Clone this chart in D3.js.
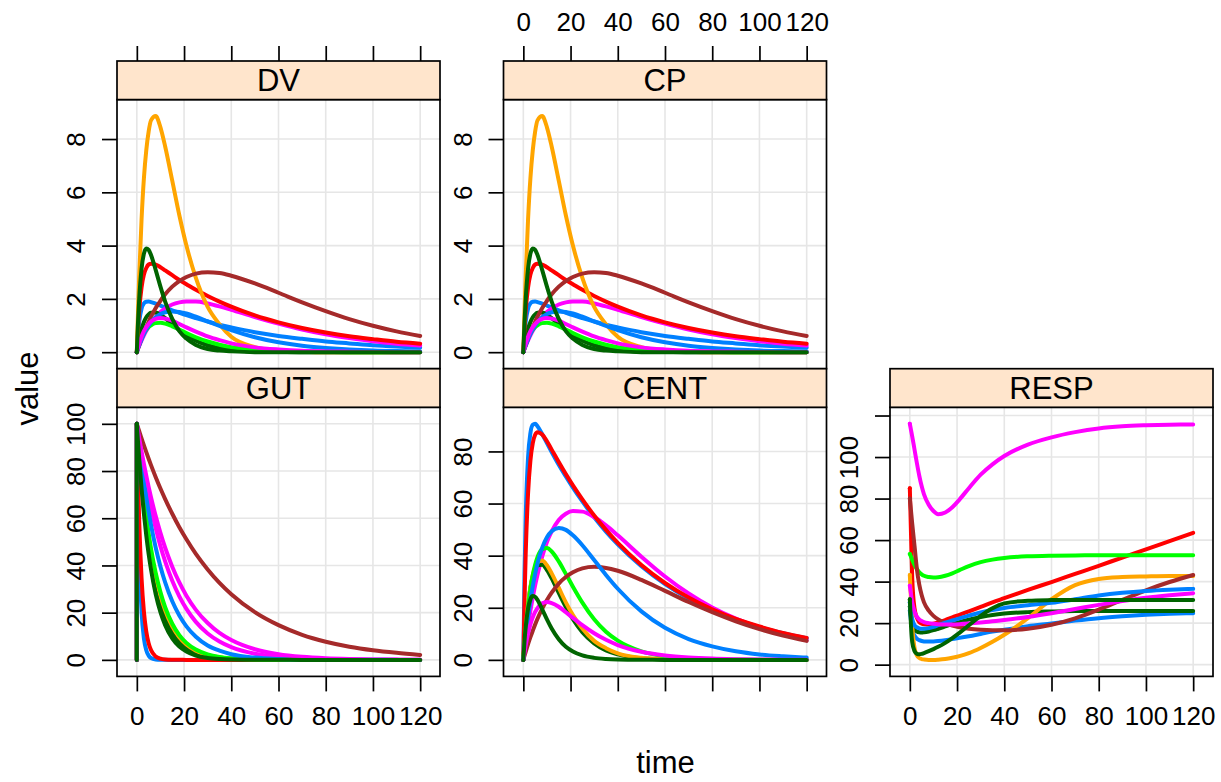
<!DOCTYPE html>
<html><head><meta charset="utf-8">
<script src="https://cdn.jsdelivr.net/npm/d3@7"></script>
<style>
body{margin:0;background:#fff}
text{font-family:"Liberation Sans",Arial,Helvetica,sans-serif;fill:#000}
</style>
</head><body>
<svg id="chart" width="1221" height="782"></svg>
<script>
// ---------------- data ----------------
const times = [0, 0, 0.5, 1, 2, 3, 4, 5, 6, 8, 10, 12, 15, 18, 21, 25, 30, 35, 40, 50, 60, 70, 80, 90, 100, 110, 120];
const ids = [1, 2, 3, 4, 5, 6, 7, 8, 9, 10];
const colors = ["#0080ff", "#ff00ff", "#006400", "#ff0000", "#ffa500", "#00ff00", "#a52a2a", "#0080ff", "#ff00ff", "#006400"];

const gut = [
  [0,100,67.0,44.9,20.2,9.1,4.1,1.8,0.8,0.17,0.03,0.01,0,0,0,0,0,0,0,0,0,0,0,0,0,0,0],
  [0,100,96.4,93.0,86.4,80.3,74.7,69.4,64.5,55.8,48.2,41.7,33.5,26.9,21.6,16.1,11.2,7.8,5.4,2.6,1.25,0.60,0.29,0.14,0.07,0.03,0.02],
  [0,100,93.0,86.5,74.8,64.7,56.0,48.4,41.9,31.4,23.5,17.6,11.4,7.4,4.8,2.7,1.3,0.63,0.30,0.07,0.02,0,0,0,0,0,0],
  [0,100,76.7,58.9,34.6,20.4,12.0,7.07,4.16,1.44,0.50,0.17,0.04,0.01,0,0,0,0,0,0,0,0,0,0,0,0,0],
  [0,100,93.7,87.8,77.1,67.7,59.5,52.2,45.8,35.4,27.3,21.0,14.2,9.6,6.5,3.9,2.0,1.06,0.55,0.15,0.04,0.01,0,0,0,0,0],
  [0,100,93.9,88.2,77.9,68.7,60.7,53.5,47.2,36.8,28.7,22.3,15.3,10.5,7.2,4.4,2.35,1.26,0.67,0.19,0.06,0.02,0,0,0,0,0],
  [0,100,98.4,96.9,93.8,90.9,88.0,85.2,82.5,77.4,72.6,68.1,61.9,56.2,51.1,44.9,38.3,32.6,27.8,20.2,14.7,10.6,7.7,5.6,4.1,3.0,2.1],
  [0,100,95.5,91.1,83.0,75.7,68.9,62.8,57.2,47.5,39.5,32.8,24.8,18.8,14.2,9.8,6.1,3.9,2.4,0.96,0.38,0.15,0.06,0.02,0.01,0,0],
  [0,100,96.9,94.0,88.3,83.0,78.0,73.3,68.9,60.9,53.8,47.5,39.5,32.8,27.2,21.2,15.6,11.4,8.4,4.5,2.4,1.3,0.7,0.38,0.2,0.11,0.06],
  [0,100,92.3,85.2,72.6,61.9,52.7,44.9,38.3,27.8,20.2,14.7,9.1,5.6,3.5,1.8,0.82,0.37,0.17,0.03,0.01,0,0,0,0,0,0]
];

const cent = [
  [0,0,32.8,54.4,77.7,87.1,90.2,90.6,89.7,86.6,83.2,79.8,74.9,70.4,66.1,60.8,54.7,49.2,44.3,35.9,29.1,23.6,19.1,15.5,12.6,10.2,8.3],
  [0,0,3.6,7.0,13.3,18.9,24.0,28.6,32.7,39.7,45.2,49.3,53.7,56.1,57.1,56.9,54.8,51.6,47.8,39.6,32.0,25.5,20.1,15.8,12.4,9.7,7.5],
  [0,0,6.5,12.2,21.2,27.6,32.0,34.8,36.3,36.5,34.5,31.3,25.7,20.3,15.6,10.6,6.3,3.6,2.1,0.6,0.2,0,0,0,0,0,0],
  [0,0,23.1,40.7,63.8,76.5,83.2,86.4,87.4,86.5,83.9,80.7,75.9,71.3,67.0,61.6,55.4,49.9,44.9,36.4,29.5,23.9,19.4,15.7,12.8,10.3,8.4],
  [0,0,6.5,12.2,21.4,28.1,32.6,35.6,37.4,38.1,36.3,33.2,27.7,22.1,17.2,12.0,7.3,4.5,2.5,0.8,0.25,0.08,0,0,0,0,0],
  [0,0,5.9,11.2,20.2,27.2,32.6,36.5,39.4,42.5,42.9,41.6,37.8,33.0,28.1,22.0,15.6,10.8,7.4,3.3,1.4,0.6,0.25,0.1,0.04,0,0],
  [0,0,1.6,3.1,6.0,8.7,11.2,13.6,15.8,19.7,23.0,25.8,29.3,31.8,33.6,35.1,35.7,35.3,34.2,30.7,26.5,22.2,18.3,14.8,11.8,9.3,7.3],
  [0,0,4.5,8.7,16.2,22.7,28.3,33.0,37.0,43.1,47.1,49.4,50.6,49.9,47.8,44.0,38.3,32.6,27.3,18.6,12.3,8.0,5.2,3.3,2.1,1.4,0.87],
  [0,0,2.9,5.6,10.0,13.6,16.3,18.4,19.9,21.7,22.2,21.8,20.4,18.3,16.1,13.3,10.2,7.7,5.7,3.1,1.7,0.92,0.49,0.27,0.14,0.08,0.04],
  [0,0,7.1,12.5,19.7,23.3,24.5,24.2,23.0,19.4,15.5,12.0,7.9,5.0,3.2,1.7,0.77,0.35,0.16,0.03,0,0,0,0,0,0,0]
];

const cp = [
  [0,0,0.69,1.14,1.63,1.83,1.89,1.90,1.88,1.82,1.75,1.68,1.57,1.48,1.39,1.28,1.15,1.03,0.93,0.75,0.61,0.50,0.40,0.33,0.26,0.21,0.17],
  [0,0,0.12,0.23,0.44,0.63,0.80,0.95,1.09,1.32,1.51,1.64,1.79,1.87,1.90,1.90,1.83,1.72,1.59,1.32,1.07,0.85,0.67,0.53,0.41,0.32,0.25],
  [0,0,0.27,0.50,0.87,1.13,1.31,1.42,1.48,1.49,1.41,1.28,1.05,0.83,0.64,0.43,0.26,0.15,0.09,0.02,0.01,0,0,0,0,0,0],
  [0,0,0.88,1.55,2.43,2.91,3.16,3.29,3.32,3.29,3.19,3.07,2.89,2.71,2.55,2.34,2.11,1.90,1.71,1.38,1.12,0.91,0.74,0.60,0.49,0.39,0.32],
  [0,0,1.51,2.84,4.98,6.53,7.58,8.28,8.70,8.86,8.44,7.72,6.44,5.14,4.00,2.79,1.70,1.05,0.58,0.19,0.06,0.02,0,0,0,0,0],
  [0,0,0.15,0.29,0.52,0.70,0.84,0.94,1.01,1.09,1.10,1.07,0.97,0.85,0.72,0.56,0.40,0.28,0.19,0.08,0.04,0.02,0.01,0,0,0,0],
  [0,0,0.13,0.26,0.50,0.73,0.94,1.14,1.33,1.66,1.93,2.17,2.46,2.67,2.82,2.95,3.00,2.97,2.87,2.58,2.23,1.87,1.54,1.24,0.99,0.78,0.61],
  [0,0,0.14,0.26,0.49,0.69,0.86,1.00,1.12,1.31,1.43,1.50,1.53,1.51,1.45,1.33,1.16,0.99,0.83,0.56,0.37,0.24,0.16,0.10,0.06,0.04,0.03],
  [0,0,0.17,0.32,0.58,0.79,0.94,1.06,1.15,1.25,1.28,1.26,1.18,1.06,0.93,0.77,0.59,0.45,0.33,0.18,0.10,0.05,0.03,0.02,0.01,0,0],
  [0,0,1.12,1.98,3.13,3.70,3.89,3.84,3.65,3.08,2.46,1.90,1.25,0.79,0.51,0.27,0.12,0.06,0.03,0,0,0,0,0,0,0,0]
];

// DV is identical to CP in the reference
const dv = cp.map(a => a.slice());

const resp = [
  [26,26,21,17,14,12.5,11.8,11.4,11.2,11.1,11.2,11.4,11.8,12.3,12.9,13.7,14.8,15.9,16.8,18.5,19.8,21.2,22.4,23.3,24.0,24.5,24.8],
  [116,116,113,110,103.5,97,91,86,82,77,74,72.5,73.3,75.8,79.5,85,91.5,96.5,100.5,106,109.5,112,113.8,114.8,115.3,115.6,115.7],
  [28,28,23,20,17,16,15.6,15.5,15.6,16,16.6,17.3,18.4,19.5,20.5,21.7,22.9,23.9,24.6,25.3,25.6,25.8,25.9,25.9,25.9,25.9,25.9],
  [85,85,63,42,27,22.5,20.5,19.8,19.5,19.4,19.7,20.3,21.5,22.8,24,25.7,27.8,30,32,36,39.8,43.7,47.6,51.6,55.5,59.5,63.5],
  [43.2,43.2,31,19,8,4.5,3.2,2.7,2.5,2.3,2.3,2.4,2.7,3.3,4.1,5.5,8,11,14.4,22.4,31.5,38.3,41.3,42.2,42.5,42.7,42.7],
  [53.3,53.3,52,50.5,48,46,44.5,43.5,42.8,42.2,42.0,42.1,42.8,44,45.5,47.5,49.4,50.6,51.4,52.2,52.5,52.6,52.7,52.7,52.7,52.7,52.7],
  [80,80,74,68,57,46,38.5,33.5,30,26,23.5,21.8,20,18.8,18,17.3,16.8,16.6,16.6,17.3,19.2,22.3,26.5,31.2,35.8,39.8,43.2],
  [30,30,25,22,19,18,17.5,17.3,17.3,17.6,18.2,19,20.2,21.3,22.3,23.6,25.1,26.3,27.3,28.6,29.8,31.5,33.3,34.6,35.5,36.1,36.5],
  [38,38,34,30,25.5,23,21.8,21,20.5,20,19.7,19.5,19.4,19.4,19.5,19.8,20.3,20.9,21.5,23,24.8,26.8,28.8,30.6,32.2,33.4,34.4],
  [31.5,31.5,18.5,11,6.5,5.2,5.0,5.2,5.6,6.5,7.5,8.6,10.5,12.8,15.3,19,23.5,27.2,29.5,30.8,31.1,31.2,31.2,31.2,31.2,31.2,31.2]
];

const xTicks = [0, 20, 40, 60, 80, 100, 120];
const dvTicks = [0, 2, 4, 6, 8];
const gutTicks = [0, 20, 40, 60, 80, 100];
const centTicks = [0, 20, 40, 60, 80];
const respTicks = [0, 20, 40, 60, 80, 100, 120];
const respTickLabels = ["0", "20", "40", "60", "80", "100", ""];
const panelNames = ["DV", "CP", "GUT", "CENT", "RESP"];

// ---------------- layout ----------------
const W = 1221, H = 782;
const colX = [117, 503.5, 890];
const pw = 323;
const rowY = [61, 368.7];
const stripH = 38.6, ph = 269.1;
const tickLen = 15, tickPad = 15;
const tickFont = 26, stripFont = 31, labFont = 31;
const lineW = 4, borderW = 1.7;

const panels = [
  {name: panelNames[0], data: dv,   col: 0, row: 0, ticks: dvTicks,   labels: dvTicks.map(String),   xTop: "ticks",  xBottom: null},
  {name: panelNames[1], data: cp,   col: 1, row: 0, ticks: dvTicks,   labels: dvTicks.map(String),   xTop: "labels", xBottom: null},
  {name: panelNames[2], data: gut,  col: 0, row: 1, ticks: gutTicks,  labels: gutTicks.map(String),  xTop: null, xBottom: "labels"},
  {name: panelNames[3], data: cent, col: 1, row: 1, ticks: centTicks, labels: centTicks.map(String), xTop: null, xBottom: "ticks"},
  {name: panelNames[4], data: resp, col: 2, row: 1, ticks: respTicks, labels: respTickLabels,        xTop: null, xBottom: "labels"}
];

const svg = d3.select("#chart");
svg.append("rect").attr("width", W).attr("height", H).attr("fill", "#ffffff");
const defs = svg.append("defs");

const xExt = d3.extent(times);
const xPad = (xExt[1] - xExt[0]) * 0.07;

panels.forEach((p, i) => {
  const x0 = colX[p.col];
  const top = rowY[p.row];
  const pt = top + stripH, pb = pt + ph;
  const x = d3.scaleLinear().domain([xExt[0] - xPad, xExt[1] + xPad]).range([x0, x0 + pw]);
  const all = p.data.flat();
  const mn = d3.min(all), mx = d3.max(all), pad = (mx - mn) * 0.07;
  const y = d3.scaleLinear().domain([mn - pad, mx + pad]).range([pb, pt]);

  const g = svg.append("g");
  defs.append("clipPath").attr("id", "clip" + i)
    .append("rect").attr("x", x0).attr("y", pt).attr("width", pw).attr("height", ph);

  // grid
  const grid = g.append("g").attr("stroke", "#e6e6e6").attr("stroke-width", 1.6);
  grid.selectAll("line.gx").data(xTicks).join("line").attr("class", "gx")
    .attr("x1", d => x(d)).attr("x2", d => x(d)).attr("y1", pt).attr("y2", pb);
  grid.selectAll("line.gy").data(p.ticks.filter(t => y(t) >= pt && y(t) <= pb)).join("line").attr("class", "gy")
    .attr("x1", x0).attr("x2", x0 + pw).attr("y1", d => y(d)).attr("y2", d => y(d));

  // series
  const lg = g.append("g").attr("clip-path", `url(#clip${i})`);
  const lin = d3.line().x(d => x(d[0])).y(d => y(d[1]));
  const smooth = d3.line().x(d => x(d[0])).y(d => y(d[1])).curve(d3.curveMonotoneX);
  p.data.forEach((vals, k) => {
    const pts = times.map((t, j) => [t, vals[j]]);
    const sg = lg.append("g").attr("fill", "none").attr("stroke", colors[k])
      .attr("stroke-width", lineW).attr("stroke-linecap", "round").attr("stroke-linejoin", "round")
      .attr("data-id", ids[k]);
    sg.append("path").attr("d", lin(pts.slice(0, 2)));
    sg.append("path").attr("d", smooth(pts.slice(1)));
  });

  // panel border
  g.append("rect").attr("x", x0).attr("y", pt).attr("width", pw).attr("height", ph)
    .attr("fill", "none").attr("stroke", "#000").attr("stroke-width", borderW);
  // strip
  g.append("rect").attr("x", x0).attr("y", top).attr("width", pw).attr("height", stripH)
    .attr("fill", "#ffe5cc").attr("stroke", "#000").attr("stroke-width", borderW);
  g.append("text").attr("x", x0 + pw / 2).attr("y", top + stripH / 2).attr("dy", "0.36em")
    .attr("text-anchor", "middle").attr("font-size", stripFont).text(p.name);

  // y axis (left)
  const yAxis = d3.axisLeft(y).tickValues(p.ticks).tickSize(tickLen).tickPadding(tickPad)
    .tickFormat((d, j) => p.labels[j]);
  const ya = g.append("g").attr("transform", `translate(${x0},0)`).call(yAxis);
  ya.select(".domain").remove();
  ya.selectAll(".tick line").attr("stroke", "#000").attr("stroke-width", borderW);
  ya.selectAll(".tick text")
    .attr("x", null).attr("dy", null).attr("text-anchor", "middle")
    .attr("font-size", tickFont).attr("font-family", null)
    .attr("transform", `translate(${-(tickLen + tickPad + 2)},0) rotate(-90)`);

  // x axis top
  if (p.xTop) {
    const ax = d3.axisTop(x).tickValues(xTicks).tickSize(tickLen).tickPadding(tickPad)
      .tickFormat(p.xTop === "labels" ? d3.format("d") : () => "");
    const xa = g.append("g").attr("transform", `translate(0,${top})`).call(ax);
    xa.select(".domain").remove();
    xa.selectAll(".tick line").attr("stroke", "#000").attr("stroke-width", borderW);
    xa.selectAll(".tick text").attr("font-size", tickFont).attr("font-family", null);
  }
  if (p.xBottom) {
    const ax = d3.axisBottom(x).tickValues(xTicks).tickSize(tickLen).tickPadding(tickPad)
      .tickFormat(p.xBottom === "labels" ? d3.format("d") : () => "");
    const xa = g.append("g").attr("transform", `translate(0,${pb})`).call(ax);
    xa.select(".domain").remove();
    xa.selectAll(".tick line").attr("stroke", "#000").attr("stroke-width", borderW);
    xa.selectAll(".tick text").attr("font-size", tickFont).attr("font-family", null);
  }
});

// axis titles
svg.append("text").attr("transform", "translate(38,388.5) rotate(-90)")
  .attr("text-anchor", "middle").attr("font-size", labFont).text("value");
svg.append("text").attr("x", 665.5).attr("y", 773)
  .attr("text-anchor", "middle").attr("font-size", labFont).text("time");
</script>
</body></html>
